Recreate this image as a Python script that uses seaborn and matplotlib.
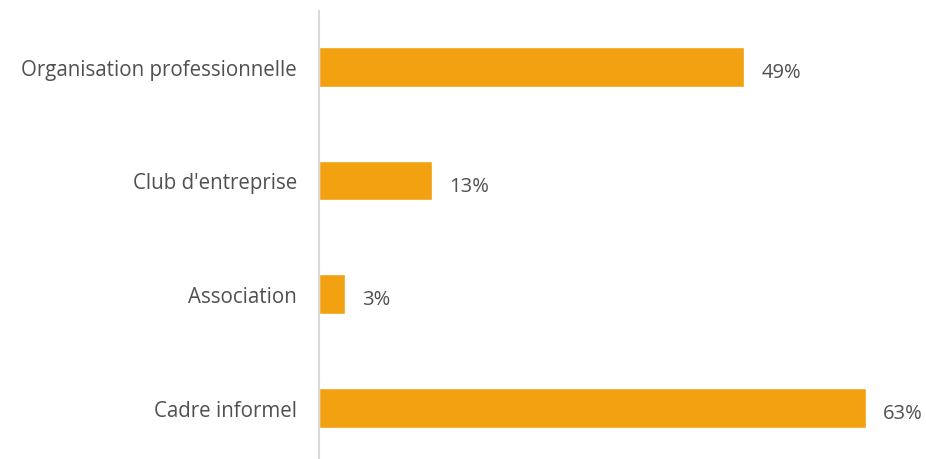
import matplotlib
matplotlib.use("Agg")
import matplotlib.pyplot as plt
import seaborn as sns
import pandas as pd

categories = ["Organisation professionnelle", "Club d'entreprise", "Association", "Cadre informel"]
values = [49, 13, 3, 63]
value_labels = ["49%", "13%", "3%", "63%"]

sns.set_theme(style="white")
plt.rcParams['font.family'] = ['Open Sans', 'DejaVu Sans']

df = pd.DataFrame({"cat": categories, "val": values})

fig = plt.figure(figsize=(9.26, 4.6), dpi=100)
ax = fig.add_axes([319/926, 0, 607/926, 448/460])
sns.barplot(data=df, x="val", y="cat", orient="h", color="#F2A111",
            width=0.35, saturation=1, ax=ax)

px_per_unit = 8.68
ax.set_xlim(0, 607/px_per_unit)
ax.set_ylim(3.45, -0.49)

for i, (v, lab) in enumerate(zip(values, value_labels)):
    ax.text(v + 17/px_per_unit, i + 0.045, lab, va="center", ha="left",
            fontsize=14.5, color="#505050")

ax.set_xlabel("")
ax.set_ylabel("")
ax.set_xticks([])
ax.tick_params(axis="y", length=0, pad=16, labelsize=14.8, labelcolor="#505050")
for s in ["top", "right", "bottom"]:
    ax.spines[s].set_visible(False)
ax.spines["left"].set_color("#D9D9D9")
ax.spines["left"].set_linewidth(1.5)

fig.savefig("out.png", dpi=100)
